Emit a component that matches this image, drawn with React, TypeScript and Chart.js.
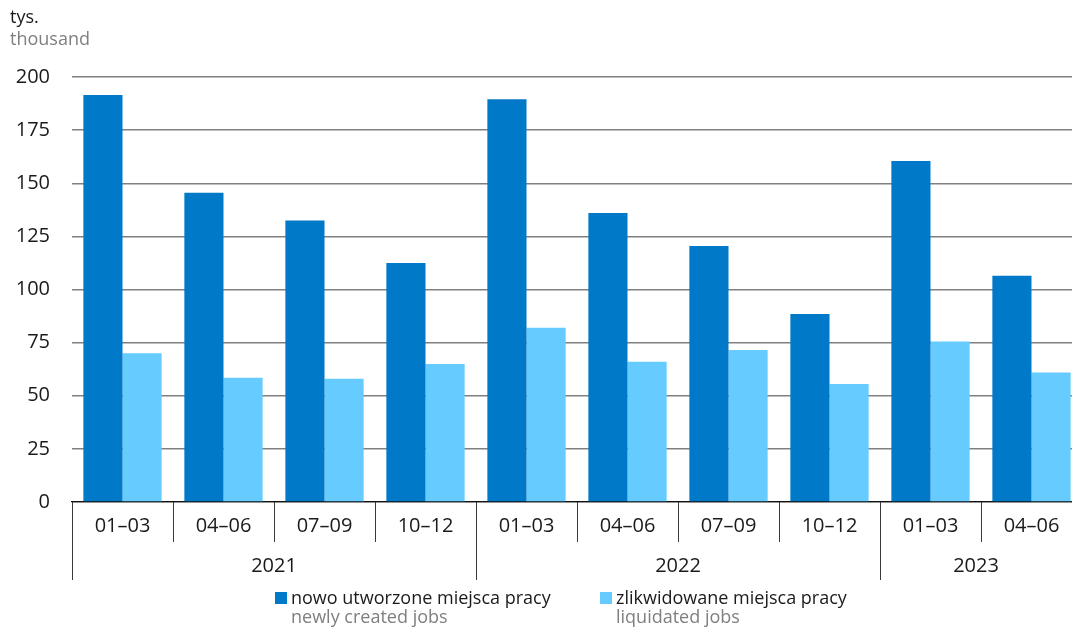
import React, { useEffect, useRef } from "react";
import { Chart, registerables } from "chart.js";

Chart.register(...registerables);

const quarters = ["01–03", "04–06", "07–09", "10–12", "01–03", "04–06", "07–09", "10–12", "01–03", "04–06"];
const years = ["2021", "2022", "2023"];
const yearStart = [0, 4, 8];
const yearEnd = [3, 7, 9];
const createdJobs = [191.5, 145.5, 132.5, 112.5, 189.5, 136, 120.5, 88.5, 160.5, 106.5];
const liquidatedJobs = [70, 58.5, 58, 65, 82, 66, 71.5, 55.5, 75.5, 61];
const yTicks = [0, 25, 50, 75, 100, 125, 150, 175, 200];

const FONT = "'Open Sans', 'Noto Sans', sans-serif";
const DARK = "#0079C8";
const LIGHT = "#66CCFF";
const TEXT = "#1a1a1a";
const GRAY = "#7f7f7f";
const VISIBLE_W = 1072;

const axisPlugin = {
  id: "yearAxis",
  afterDraw(chart: any) {
    const ctx = chart.ctx;
    const x = chart.scales.x;
    const bottom = chart.chartArea.bottom;
    const step = x.getPixelForValue(1) - x.getPixelForValue(0);
    const boundary = (i: number) => x.getPixelForValue(i) - step / 2;
    ctx.save();
    ctx.strokeStyle = "#3a3a3a";
    ctx.lineWidth = 1;
    const yearStarts = new Set(yearStart);
    for (let i = 0; i <= quarters.length; i++) {
      const px = Math.round(boundary(i)) + 0.5;
      const isYear = yearStarts.has(i) || i === quarters.length;
      ctx.beginPath();
      ctx.moveTo(px, bottom);
      ctx.lineTo(px, bottom + (isYear ? 78 : 40));
      ctx.stroke();
    }
    ctx.fillStyle = TEXT;
    ctx.font = `20px ${FONT}`;
    ctx.textAlign = "center";
    ctx.textBaseline = "middle";
    years.forEach((y, k) => {
      const a = boundary(yearStart[k]);
      const b = Math.min(boundary(yearEnd[k] + 1), VISIBLE_W);
      ctx.fillText(y, (a + b) / 2, bottom + 64);
    });
    ctx.restore();
  },
};

export default function App() {
  const ref = useRef<HTMLCanvasElement | null>(null);
  useEffect(() => {
    if (!ref.current) return;
    const chart = new Chart(ref.current, {
      type: "bar",
      data: {
        labels: quarters,
        datasets: [
          { label: "nowo utworzone miejsca pracy", data: createdJobs, backgroundColor: DARK, borderWidth: 0 },
          { label: "zlikwidowane miejsca pracy", data: liquidatedJobs, backgroundColor: LIGHT, borderWidth: 0 },
        ],
      },
      options: {
        responsive: false,
        animation: false,
        events: [],
        layout: { padding: { top: 77, right: 8, bottom: 0, left: 0 } },
        datasets: { bar: { categoryPercentage: 0.775, barPercentage: 1.0 } },
        plugins: { legend: { display: false }, title: { display: false }, tooltip: { enabled: false } },
        scales: {
          x: {
            offset: true,
            grid: { display: false, drawTicks: false },
            border: { display: true, color: "#111", width: 1.2 },
            ticks: { font: { family: FONT, size: 20 }, color: TEXT, padding: 12, maxRotation: 0, autoSkip: false },
            afterFit: (s: any) => { s.height = 126; },
          },
          y: {
            min: 0,
            max: 200,
            afterBuildTicks: (s: any) => { s.ticks = yTicks.map((v) => ({ value: v })); },
            grid: { color: "#808080", lineWidth: 1.5, drawTicks: false },
            border: { display: false },
            ticks: { font: { family: FONT, size: 20 }, color: TEXT, padding: 22 },
            afterFit: (s: any) => { s.width = 72; },
          },
        },
      },
      plugins: [axisPlugin],
    });
    return () => chart.destroy();
  }, []);

  const legendItem = (color: string, pl: string, en: string, left: number) => (
    <div style={{ position: "absolute", left, top: 588, fontFamily: FONT, fontSize: 18, lineHeight: "19px", whiteSpace: "nowrap" }}>
      <span style={{ position: "absolute", left: 0, top: 4, width: 12, height: 12, background: color }} />
      <div style={{ marginLeft: 16, color: TEXT }}>{pl}</div>
      <div style={{ marginLeft: 16, color: GRAY }}>{en}</div>
    </div>
  );

  return (
    <div style={{ position: "fixed", left: 0, top: 0, width: VISIBLE_W, height: 628, overflow: "hidden", background: "#fff" }}>
      <canvas ref={ref} width={1090} height={628} style={{ position: "absolute", left: 0, top: 0, width: 1090, height: 628 }} />
      <div style={{ position: "absolute", left: 10, top: 5, fontFamily: FONT, fontSize: 18, lineHeight: "22px", whiteSpace: "nowrap" }}>
        <div style={{ color: TEXT }}>tys.</div>
        <div style={{ color: GRAY }}>thousand</div>
      </div>
      {legendItem(DARK, "nowo utworzone miejsca pracy", "newly created jobs", 275)}
      {legendItem(LIGHT, "zlikwidowane miejsca pracy", "liquidated jobs", 600)}
    </div>
  );
}
